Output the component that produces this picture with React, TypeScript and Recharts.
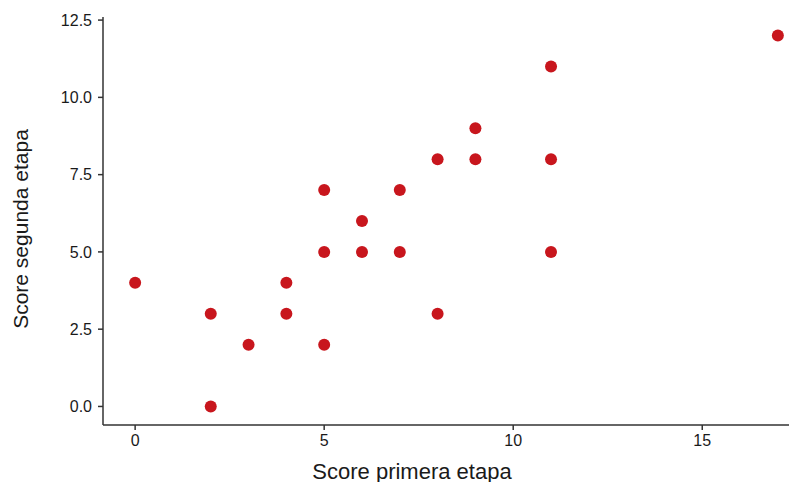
import { ScatterChart, Scatter, XAxis, YAxis } from "recharts"

const primeraEtapa = [0, 2, 2, 3, 4, 4, 5, 5, 5, 6, 6, 7, 7, 8, 8, 9, 9, 11, 11, 11, 17]
const segundaEtapa = [4, 3, 0, 2, 4, 3, 7, 5, 2, 6, 5, 7, 5, 8, 3, 9, 8, 11, 8, 5, 12]
const xTicks = [0, 5, 10, 15]
const yTicks = [0, 2.5, 5, 7.5, 10, 12.5]

const data = primeraEtapa.map((x, i) => ({ x, y: segundaEtapa[i] }))

const font = "'Liberation Sans', Arial, sans-serif"
const axisColor = "#333333"

export default function App() {
  return (
    <div
      style={{
        margin: -8,
        width: 797,
        height: 490,
        overflow: "hidden",
        background: "#fff",
        fontFamily: font,
        position: "relative",
      }}
    >
      {/* chart is a bit wider than the frame, the right end gets cut like in the original */}
      <ScatterChart width={810} height={490} margin={{ top: 17, right: 0, bottom: 0, left: 0 }}>
        <XAxis
          type="number"
          dataKey="x"
          domain={[-0.85, 17.85]}
          ticks={xTicks}
          allowDataOverflow
          height={65}
          stroke={axisColor}
          strokeWidth={1.5}
          tickSize={5}
          tickMargin={5}
          tick={{ fill: "#1a1a1a", fontSize: 16, fontFamily: font }}
        />
        <YAxis
          type="number"
          dataKey="y"
          domain={[-0.6, 12.6]}
          ticks={yTicks}
          allowDataOverflow
          width={103}
          stroke={axisColor}
          strokeWidth={1.5}
          tickSize={5}
          tickMargin={6}
          tickFormatter={(v: number) => v.toFixed(1)}
          tick={{ fill: "#1a1a1a", fontSize: 16, fontFamily: font }}
        />
        <Scatter
          data={data}
          fill="#c8161d"
          isAnimationActive={false}
          shape={(p: any) => <circle cx={p.cx} cy={p.cy} r={6} fill="#c8161d" />}
        />
      </ScatterChart>
      {/* axis titles drawn on top */}
      <svg width={797} height={490} style={{ position: "absolute", left: 0, top: 0, pointerEvents: "none" }}>
        <text x={412} y={479} textAnchor="middle" fontSize={22} fontFamily={font} fill="#1a1a1a">
          Score primera etapa
        </text>
        <text
          x={28}
          y={229}
          textAnchor="middle"
          fontSize={21}
          fontFamily={font}
          fill="#1a1a1a"
          transform="rotate(-90 28 229)"
        >
          Score segunda etapa
        </text>
      </svg>
    </div>
  )
}
